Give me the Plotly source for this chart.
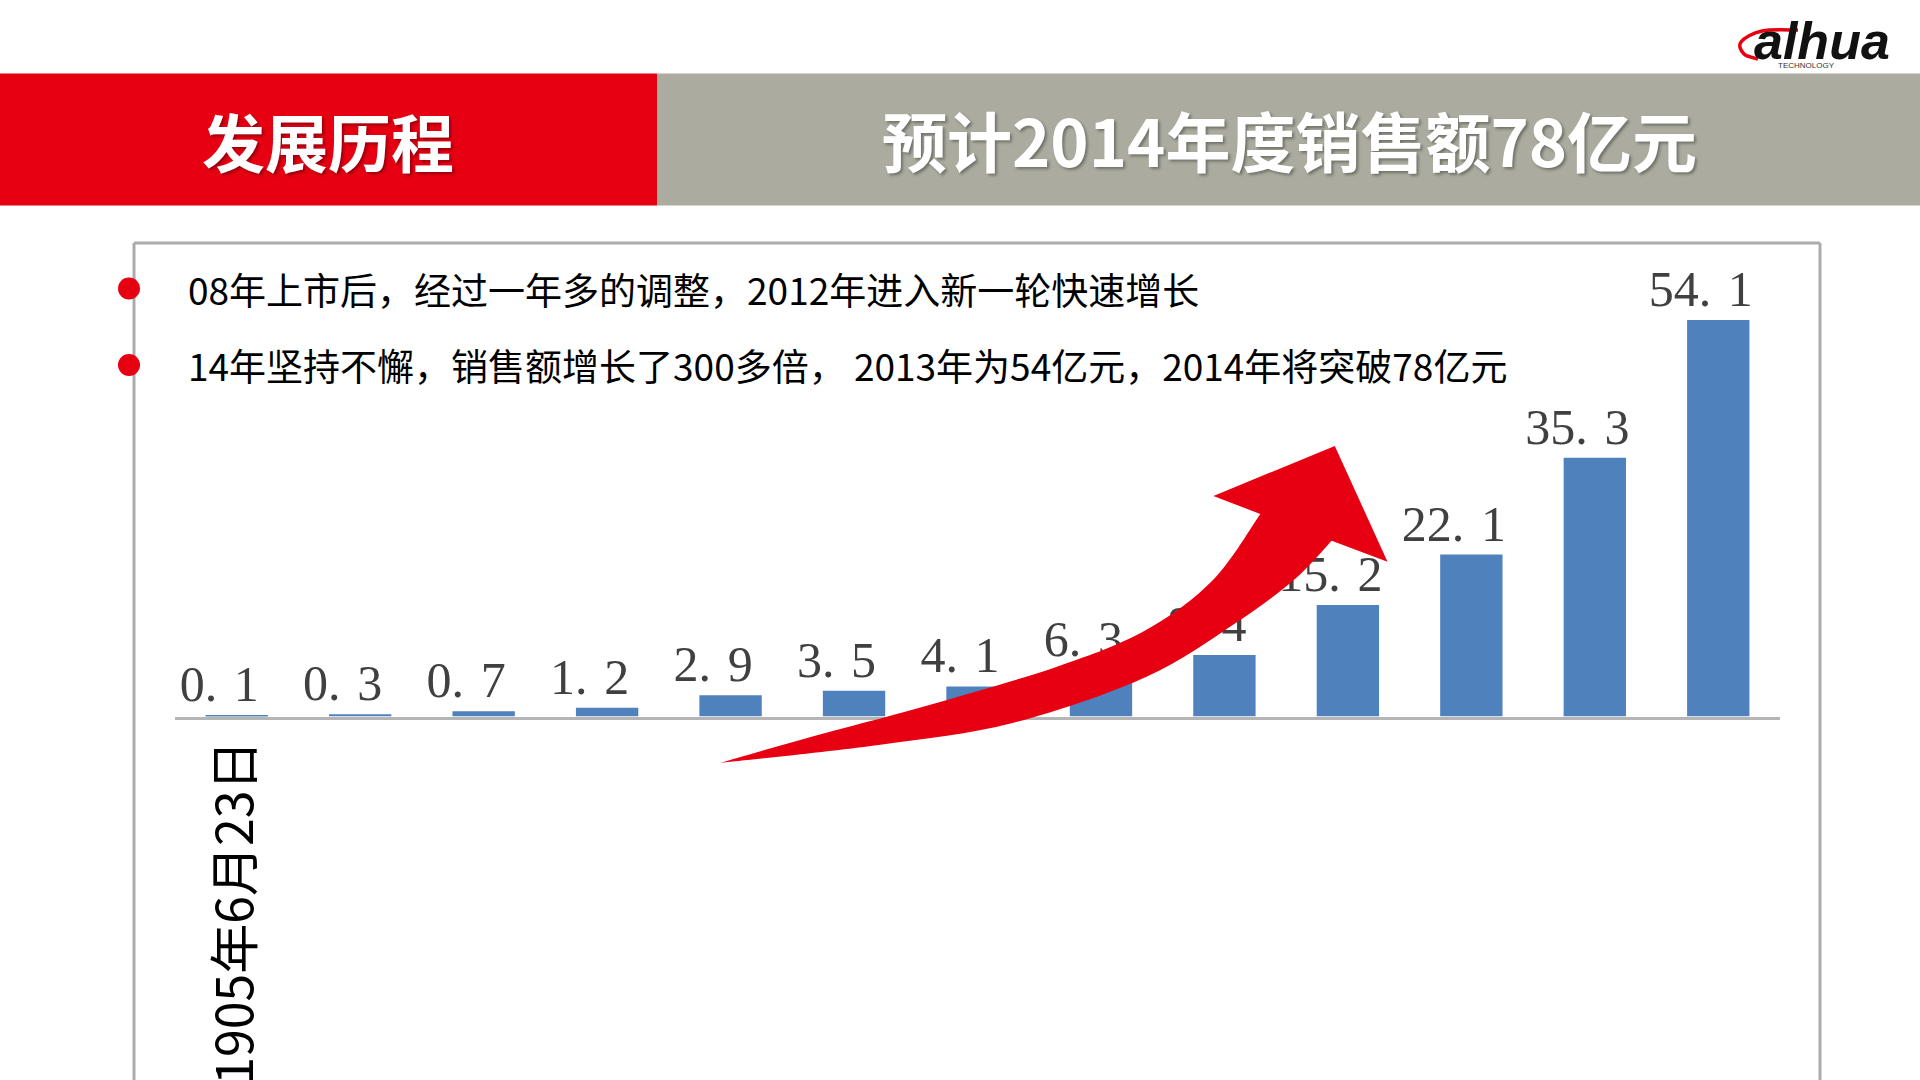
import plotly.graph_objects as go

W, H = 1920, 1080

# ---------------- data ----------------
years = [str(y) for y in range(2001, 2014)]
sales = [0.1, 0.3, 0.7, 1.2, 2.9, 3.5, 4.1, 6.3, 8.4, 15.2, 22.1, 35.3, 54.1]
tick_labels = ["1905年6月23日"] + [""] * 12
header_left = "发展历程"
header_right = "预计2014年度销售额78亿元"
bullets = [
    "08年上市后，经过一年多的调整，2012年进入新一轮快速增长",
    "14年坚持不懈，销售额增长了300多倍， 2013年为54亿元，2014年将突破78亿元",
]

RED = "#E60012"
GRAY_HDR = "#ABAC9F"
BAR = "#4F81BD"


def px(x):
    return x / W


def py(y):
    return 1 - y / H


# value labels in the slide's "0. 1" style (trailing spaces reproduce the left offset)
labels = [f"{v:.1f}".replace(".", ".\u2004") + "\u2002\u2009" for v in sales]

fig = go.Figure()
fig.add_trace(go.Bar(
    x=years, y=sales,
    marker=dict(color=BAR, line=dict(width=0)),
    text=labels, textposition="outside",
    textfont=dict(family="Liberation Serif", size=50, color="#404040"),
    constraintext="none", cliponaxis=False,
    hoverinfo="skip",
))

shapes = []
shapes.append(dict(type="rect", xref="paper", yref="paper", x0=0, x1=px(657),
                   y0=py(205.5), y1=py(73.5), fillcolor=RED, line=dict(width=0), layer="below"))
shapes.append(dict(type="rect", xref="paper", yref="paper", x0=px(657), x1=1,
                   y0=py(205.5), y1=py(73.5), fillcolor=GRAY_HDR, line=dict(width=0), layer="below"))
frame = dict(color="#ABABAB", width=3)
for (x0, y0, x1, y1) in [(134, 1085, 134, 243), (134, 243, 1820, 243), (1820, 243, 1820, 1085)]:
    shapes.append(dict(type="line", xref="paper", yref="paper", x0=px(x0), y0=py(y0),
                       x1=px(x1), y1=py(y1), line=frame, layer="below"))
for yc in (288.5, 365):
    r = 11
    shapes.append(dict(type="circle", xref="paper", yref="paper",
                       x0=px(129 - r), x1=px(129 + r), y0=py(yc + r), y1=py(yc - r),
                       fillcolor=RED, line=dict(width=0), layer="above"))


def smooth(points):
    pts = [(px(x), py(y)) for x, y in points]
    seg = ""
    n = len(pts)
    for i in range(n - 1):
        p0 = pts[i - 1] if i > 0 else pts[i]
        p1 = pts[i]
        p2 = pts[i + 1]
        p3 = pts[i + 2] if i + 2 < n else pts[i + 1]
        c1 = (p1[0] + (p2[0] - p0[0]) / 6, p1[1] + (p2[1] - p0[1]) / 6)
        c2 = (p2[0] - (p3[0] - p1[0]) / 6, p2[1] - (p3[1] - p1[1]) / 6)
        seg += f" C {c1[0]:.5f},{c1[1]:.5f} {c2[0]:.5f},{c2[1]:.5f} {p2[0]:.5f},{p2[1]:.5f}"
    return seg


# red curved arrow (decoration)
lower = [(720, 763), (878.6, 745), (1012.5, 723), (1146, 677), (1235.7, 623), (1293.8, 580), (1331.7, 540.7)]
head = [(1387.5, 561.7), (1334.8, 446), (1213.4, 496), (1260.3, 514)]
upper = [(1260.3, 514), (1213, 580), (1146, 630), (1057, 666.7), (923, 706.7), (811.6, 736.7), (720, 763)]
path = f"M {px(lower[0][0]):.5f},{py(lower[0][1]):.5f}" + smooth(lower)
for x, y in head:
    path += f" L {px(x):.5f},{py(y):.5f}"
path += smooth(upper) + " Z"
shapes.append(dict(type="path", xref="paper", yref="paper", path=path,
                   fillcolor=RED, line=dict(width=0), layer="above"))

# logo swoosh
logo_pts = [(1798, 30), (1762, 31), (1741, 42), (1744, 54), (1758, 59)]
lp = f"M {px(logo_pts[0][0]):.5f},{py(logo_pts[0][1]):.5f}" + smooth(logo_pts)
shapes.append(dict(type="path", xref="paper", yref="paper", path=lp,
                   line=dict(color=RED, width=3.5), layer="above"))

annotations = [
    dict(x=px(328), y=py(139), xref="paper", yref="paper", text=header_left, showarrow=False,
         xanchor="center", yanchor="middle",
         font=dict(family="Noto Sans CJK SC", size=63, color="white", weight=700,
                   shadow="2px 2px 3px rgba(0,0,0,0.35)")),
    dict(x=px(1289), y=py(139), xref="paper", yref="paper", text=header_right, showarrow=False,
         xanchor="center", yanchor="middle",
         font=dict(family="Noto Sans CJK SC", size=65, color="white", weight=700,
                   shadow="2px 2px 3px rgba(0,0,0,0.35)")),
    dict(x=px(1822), y=py(41), xref="paper", yref="paper", text="<b><i>alhua</i></b>", showarrow=False,
         xanchor="center", yanchor="middle",
         font=dict(family="Liberation Sans", size=52, color="#111111")),
    dict(x=px(1806), y=py(65), xref="paper", yref="paper", text="TECHNOLOGY", showarrow=False,
         xanchor="center", yanchor="middle",
         font=dict(family="Liberation Sans", size=8, color="#333333")),
]
for txt, yc in zip(bullets, (289, 365)):
    annotations.append(dict(x=px(186), y=py(yc), xref="paper", yref="paper", text=txt,
                            showarrow=False, xanchor="left", yanchor="middle",
                            font=dict(family="Noto Sans CJK SC", size=37, color="#000000")))

fig.update_layout(
    width=W, height=H, autosize=False,
    margin=dict(l=0, r=0, t=0, b=0, pad=0, autoexpand=False),
    paper_bgcolor="white", plot_bgcolor="rgba(0,0,0,0)",
    showlegend=False,
    bargap=0.495,
    shapes=shapes,
    annotations=annotations,
    xaxis=dict(
        type="category", domain=[px(175), px(1780)], automargin=False,
        tickmode="array", tickvals=years, ticktext=tick_labels,
        tickangle=-90, ticks="", ticklabelstandoff=1,
        tickfont=dict(family="Noto Sans CJK SC", size=50, color="#000000"),
        showline=True, linecolor="#B5B5B5", linewidth=3,
        showgrid=False, zeroline=False, fixedrange=True,
    ),
    yaxis=dict(
        domain=[py(716.5), py(243)], range=[0, 64.6], automargin=False,
        visible=False, showgrid=False, zeroline=False, fixedrange=True,
    ),
)

fig.write_html(
    "out.html",
    config={"responsive": False, "displayModeBar": False},
    post_script="document.body.style.margin='0';document.body.style.overflow='hidden';",
)
